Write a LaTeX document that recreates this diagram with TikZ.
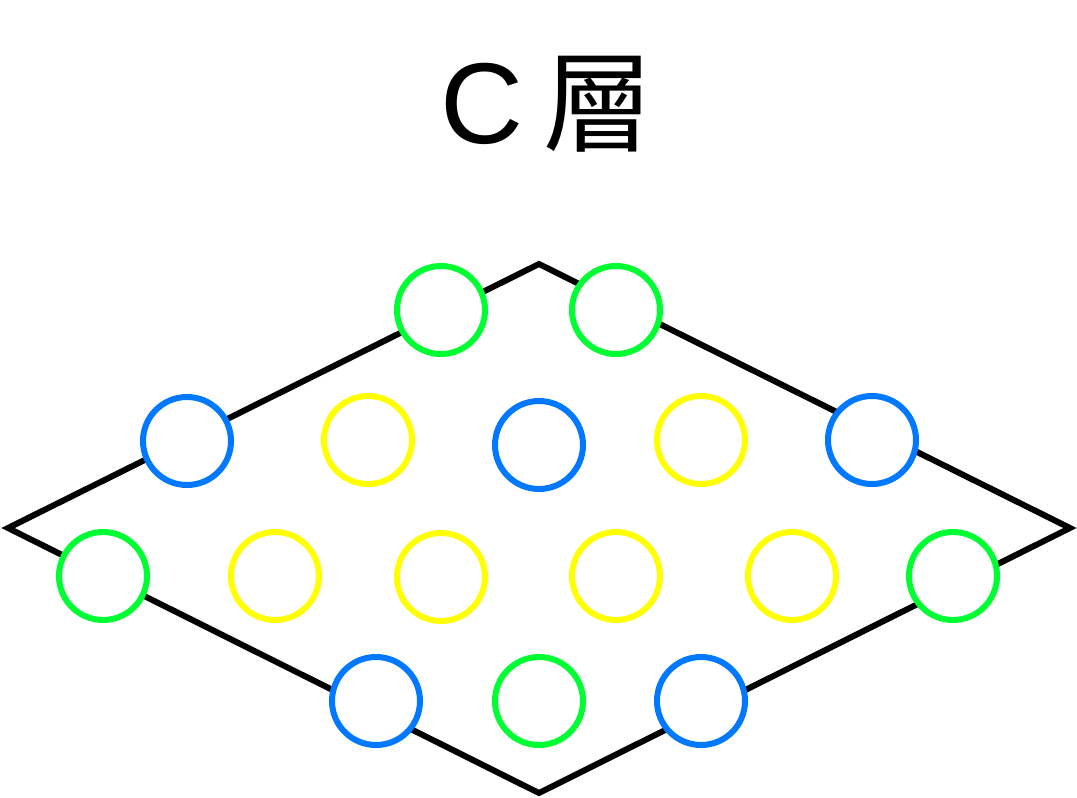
\documentclass[tikz,border=0pt]{standalone}
\usepackage{fontspec}
\setmainfont{Liberation Sans}
\newfontfamily\cjk{Noto Sans CJK TC}
\definecolor{cgreen}{RGB}{0,255,50}
\definecolor{cblue}{RGB}{0,120,255}
\definecolor{cyellow}{RGB}{255,255,0}
\begin{document}
\begin{tikzpicture}[x=1pt,y=-1pt,
  atom/.style={circle,fill=white,draw,line width=6pt,minimum size=88pt,inner sep=0pt},
  ga/.style={atom,draw=cgreen},
  ba/.style={atom,draw=cblue},
  ya/.style={atom,draw=cyellow}]
\useasboundingbox (0,0) rectangle (1077,798);
\node[anchor=base,inner sep=0pt,font=\fontsize{115}{120}\selectfont] (title) at (482,143) {C};
\node[anchor=base,inner sep=0pt,font=\fontsize{110}{120}\cjk] (title2) at (598,143) {層};
\coordinate (T) at (539,264);
\coordinate (L) at (8,528);
\coordinate (R) at (1070,528);
\coordinate (B) at (539,793);
\draw[line width=6pt,miter limit=10] (T) -- (R) -- (B) -- (L) -- cycle;
% row 1
\node[ga] (g1) at (441,310) {};
\node[ga] (g2) at (616,310) {};
% row 2
\node[ba] (b1) at (187,441) {};
\node[ya] (y1) at (368,440) {};
\node[ba] (b2) at (539,445) {};
\node[ya] (y2) at (701,440) {};
\node[ba] (b3) at (872,440) {};
% row 3
\node[ga] (g3) at (103,576) {};
\node[ya] (y3) at (275,576) {};
\node[ya] (y4) at (441,577) {};
\node[ya] (y5) at (616,576) {};
\node[ya] (y6) at (792,576) {};
\node[ga] (g4) at (953,576) {};
% row 4
\node[ba] (b4) at (376,701) {};
\node[ga] (g5) at (539,701) {};
\node[ba] (b5) at (701,701) {};
\end{tikzpicture}
\end{document}
